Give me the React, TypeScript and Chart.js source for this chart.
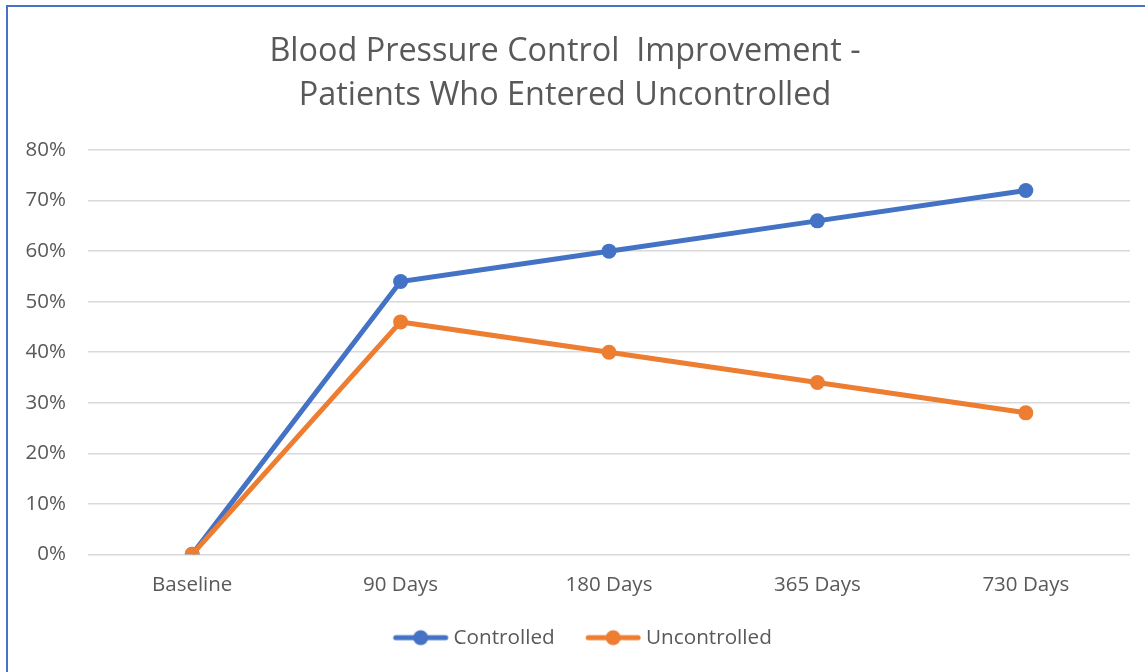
import React, { useEffect, useRef } from "react";
import { Chart, registerables } from "chart.js";

Chart.register(...registerables);

const categories = ["Baseline", "90 Days", "180 Days", "365 Days", "730 Days"];
const controlled = [0, 0.54, 0.6, 0.66, 0.72];
const uncontrolled = [0, 0.46, 0.4, 0.34, 0.28];
const titleLines = ["Blood Pressure Control  Improvement -", "Patients Who Entered Uncontrolled"];

const BLUE = "#4472C4";
const ORANGE = "#ED7D31";
const TEXT = "#595959";
const FONT = "'Open Sans'";

function legendIcon(color: string): HTMLCanvasElement {
  const c = document.createElement("canvas");
  const m = 27;
  c.width = 84;
  c.height = 18;
  const ctx = c.getContext("2d")!;
  ctx.strokeStyle = color;
  ctx.lineWidth = 5;
  ctx.lineCap = "round";
  ctx.beginPath();
  ctx.moveTo(m + 3, 9);
  ctx.lineTo(m + 53, 9);
  ctx.stroke();
  ctx.fillStyle = color;
  ctx.beginPath();
  ctx.arc(m + 28, 9, 7.5, 0, Math.PI * 2);
  ctx.fill();
  return c;
}

const legendShift = {
  id: "legendShift",
  afterLayout(chart: any) {
    const lg = chart.legend;
    if (!lg) return;
    lg.left += 14;
    lg.top += 2;
    lg.bottom += 2;
  },
};

export default function App() {
  const ref = useRef<HTMLCanvasElement>(null);
  useEffect(() => {
    if (!ref.current) return;
    const icons = [legendIcon(BLUE), legendIcon(ORANGE)];
    const chart = new Chart(ref.current, {
      type: "line",
      plugins: [legendShift],
      data: {
        labels: categories,
        datasets: [
          {
            label: "Controlled",
            data: controlled,
            borderColor: BLUE,
            backgroundColor: BLUE,
            pointBackgroundColor: BLUE,
            pointBorderWidth: 0,
            pointRadius: 7.5,
            borderWidth: 5,
            order: 1,
          },
          {
            label: "Uncontrolled",
            data: uncontrolled,
            borderColor: ORANGE,
            backgroundColor: ORANGE,
            pointBackgroundColor: ORANGE,
            pointBorderWidth: 0,
            pointRadius: 7.5,
            borderWidth: 5,
            order: 0,
          },
        ],
      },
      options: {
        responsive: false,
        animation: false,
        layout: { padding: { left: 0, right: 15, top: 0, bottom: 16 } },
        plugins: {
          title: {
            display: true,
            text: titleLines,
            color: TEXT,
            font: { family: FONT, size: 32.4, weight: "normal", lineHeight: 1.36 },
            padding: { top: 30, bottom: 32 },
          },
          legend: {
            position: "bottom",
            labels: {
              usePointStyle: true,
              pointStyleWidth: 71,
              color: TEXT,
              font: { family: FONT, size: 20.7 },
              padding: 10,
              sort: (a: any, b: any) => a.datasetIndex - b.datasetIndex,
              generateLabels: (ch: any) =>
                Chart.defaults.plugins.legend.labels
                  .generateLabels(ch)
                  .map((l: any) => ({ ...l, pointStyle: icons[l.datasetIndex] })),
            },
          },
          tooltip: { enabled: false },
        },
        scales: {
          x: {
            offset: true,
            grid: { display: false },
            border: { display: false },
            ticks: { color: TEXT, font: { family: FONT, size: 20.5 }, padding: 11 },
            afterFit: (s: any) => {
              s.height = 61;
            },
          },
          y: {
            min: 0,
            max: 0.8,
            grid: { color: "#D9D9D9", lineWidth: 1.5, drawTicks: false },
            border: { display: false },
            ticks: {
              stepSize: 0.1,
              color: TEXT,
              font: { family: FONT, size: 20.5 },
              padding: 22,
              callback: (v: any) => Math.round(Number(v) * 100) + "%",
            },
            afterFit: (s: any) => {
              s.width = 88;
            },
          },
        },
      },
    });
    return () => chart.destroy();
  }, []);
  return (
    <div
      style={{
        position: "absolute",
        left: 0,
        top: 0,
        width: 1145,
        height: 672,
        overflow: "hidden",
        background: "#fff",
      }}
    >
      <div
        style={{
          position: "absolute",
          left: 6,
          top: 5,
          width: 1300,
          height: 800,
          borderLeft: `2px solid ${BLUE}`,
          borderTop: `2px solid ${BLUE}`,
        }}
      />
      <canvas ref={ref} width={1145} height={672} style={{ position: "absolute", left: 0, top: 0 }} />
    </div>
  );
}
